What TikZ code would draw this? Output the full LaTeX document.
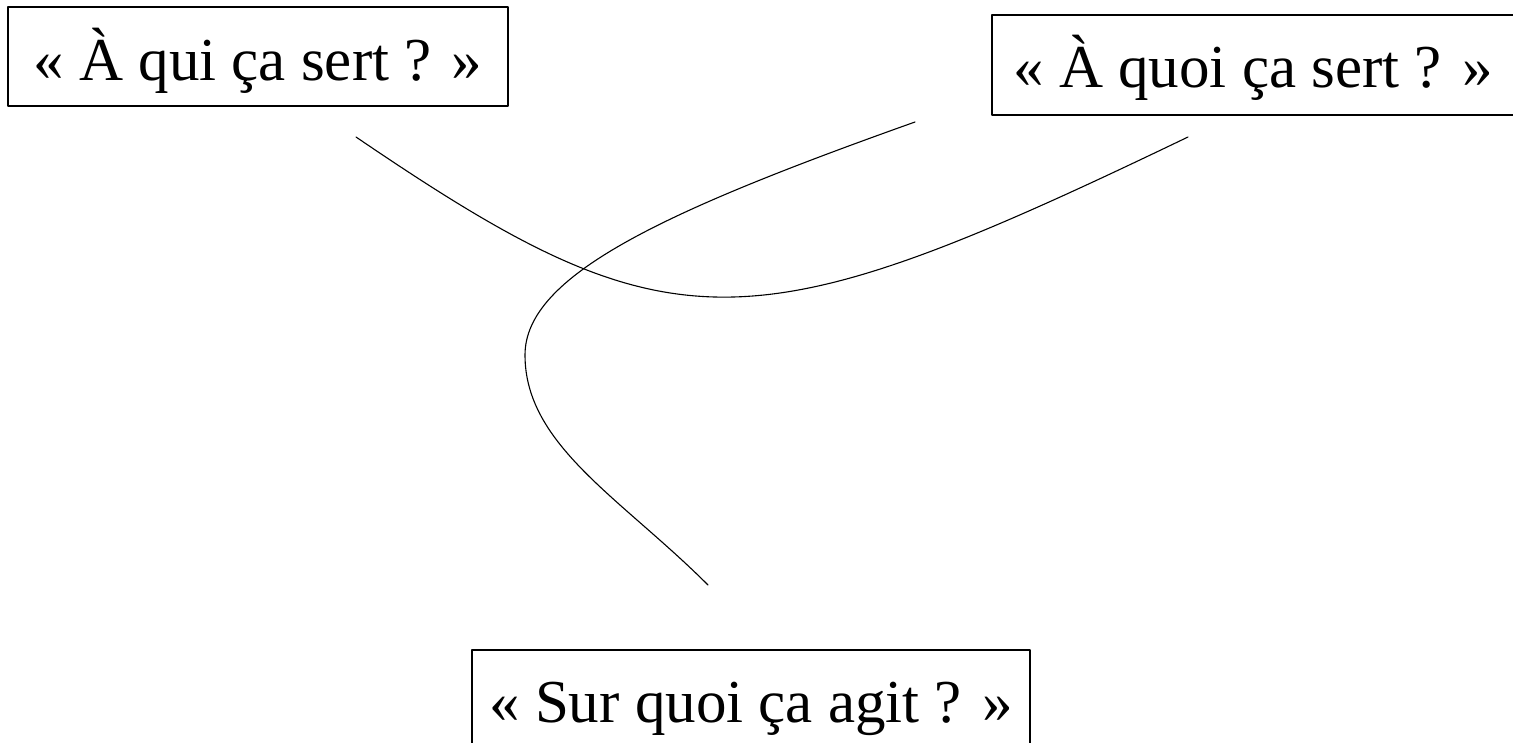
\documentclass[tikz,border=0pt]{standalone}
\usepackage{fontspec}
\setmainfont{Liberation Serif}
\usepackage{tikz}

\begin{document}
\begin{tikzpicture}[x=1pt, y=-1pt, line cap=round, line join=round,
    question/.style={draw, line width=1.3pt, inner sep=0pt, anchor=base,
                     font=\fontsize{61}{73}\selectfont},
    curve/.style={line width=1.1pt}]
  \useasboundingbox (0,0) rectangle (1513,743);
  % the three questions
  \node[question, minimum width=500pt, text height=74pt, text depth=25pt]
    (qui) at (258,81) {« À qui ça sert ? »};
  \node[question, minimum width=522pt, text height=73pt, text depth=27pt]
    (quoi) at (1253,88) {« À quoi ça sert ? »};
  \node[question, minimum width=558pt, text height=72pt, text depth=24pt]
    (agit) at (751,722) {« Sur quoi ça agit ? »};
  % free ends of the two curves
  \coordinate (quistart) at (356,137);
  \coordinate (quiend) at (1188,137);
  \coordinate (quoistart) at (915,122);
  \coordinate (quoiturn) at (525,355);
  \coordinate (quoiend) at (708,585);
  % the curves
  \draw[curve] (quistart) .. controls (672,352) and (747,349) .. (quiend);
  \draw[curve] (quoistart) .. controls (665,211) and (525,275) .. (quoiturn)
    .. controls (525,445) and (621,498) .. (quoiend);
\end{tikzpicture}
\end{document}
